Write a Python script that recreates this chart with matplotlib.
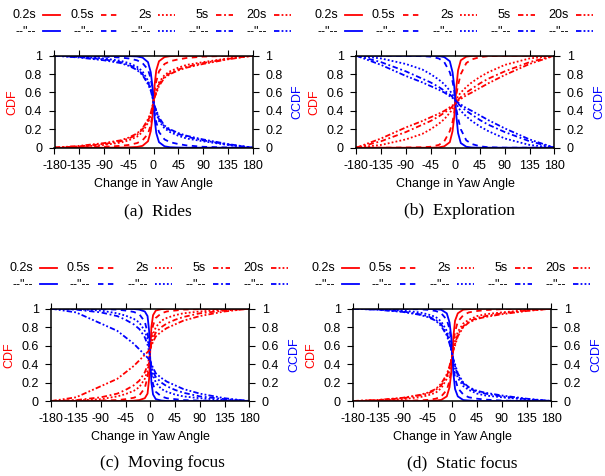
import matplotlib
matplotlib.use("Agg")
import matplotlib.pyplot as plt
import numpy as np

plt.rcParams['font.family'] = ['Liberation Sans', 'DejaVu Sans']
plt.rcParams['axes.unicode_minus'] = False

angles = [-180, -135, -90, -60, -45, -30, -20, -10, -5, -2, 0, 2, 5, 10, 20, 30, 45, 60, 90, 135, 180]
durations = ['0.2s', '0.5s', '2s', '5s', '20s']

# CDF values, one list per duration
rides = [
    [0, 0, 0, 0.002, 0.004, 0.008, 0.02, 0.07, 0.18, 0.33, 0.5, 0.68, 0.84, 0.94, 0.985, 0.995, 0.998, 1, 1, 1, 1],
    [0, 0.003, 0.01, 0.02, 0.03, 0.05, 0.08, 0.15, 0.25, 0.36, 0.5, 0.62, 0.72, 0.83, 0.91, 0.94, 0.96, 0.975, 0.99, 0.998, 1],
    [0, 0.01, 0.03, 0.055, 0.08, 0.12, 0.17, 0.27, 0.35, 0.43, 0.5, 0.56, 0.62, 0.71, 0.79, 0.83, 0.87, 0.9, 0.93, 0.97, 1],
    [0, 0.015, 0.04, 0.07, 0.1, 0.14, 0.2, 0.29, 0.37, 0.44, 0.5, 0.55, 0.6, 0.69, 0.77, 0.81, 0.85, 0.88, 0.92, 0.965, 1],
    [0, 0.02, 0.05, 0.08, 0.11, 0.155, 0.21, 0.31, 0.38, 0.45, 0.5, 0.55, 0.59, 0.67, 0.76, 0.8, 0.84, 0.87, 0.91, 0.96, 1],
]
exploration = [
    [0, 0, 0, 0, 0, 0.003, 0.015, 0.06, 0.18, 0.33, 0.48, 0.66, 0.84, 0.95, 0.99, 0.998, 1, 1, 1, 1, 1],
    [0, 0, 0.002, 0.005, 0.01, 0.03, 0.07, 0.18, 0.28, 0.38, 0.48, 0.58, 0.68, 0.8, 0.92, 0.96, 0.985, 0.995, 1, 1, 1],
    [0, 0.03, 0.09, 0.15, 0.2, 0.26, 0.31, 0.38, 0.42, 0.46, 0.48, 0.52, 0.56, 0.6, 0.66, 0.71, 0.77, 0.82, 0.9, 0.97, 1],
    [0, 0.07, 0.17, 0.25, 0.29, 0.34, 0.38, 0.42, 0.45, 0.47, 0.48, 0.5, 0.52, 0.55, 0.6, 0.64, 0.7, 0.75, 0.83, 0.93, 1],
    [0, 0.1, 0.22, 0.29, 0.33, 0.37, 0.4, 0.44, 0.46, 0.47, 0.48, 0.5, 0.51, 0.53, 0.57, 0.6, 0.65, 0.7, 0.79, 0.91, 1],
]
moving = [
    [0, 0, 0, 0, 0, 0.003, 0.01, 0.03, 0.08, 0.25, 0.56, 0.8, 0.93, 0.98, 0.995, 1, 1, 1, 1, 1, 1],
    [0, 0, 0.005, 0.01, 0.02, 0.035, 0.06, 0.14, 0.26, 0.4, 0.56, 0.7, 0.82, 0.9, 0.95, 0.97, 0.98, 0.99, 0.995, 1, 1],
    [0, 0.005, 0.02, 0.05, 0.075, 0.11, 0.15, 0.24, 0.33, 0.43, 0.56, 0.65, 0.72, 0.8, 0.87, 0.9, 0.93, 0.95, 0.97, 0.99, 1],
    [0, 0.01, 0.04, 0.08, 0.12, 0.17, 0.22, 0.31, 0.39, 0.47, 0.56, 0.62, 0.68, 0.74, 0.8, 0.84, 0.88, 0.91, 0.95, 0.98, 1],
    [0, 0.04, 0.16, 0.24, 0.31, 0.38, 0.44, 0.5, 0.53, 0.55, 0.57, 0.6, 0.64, 0.7, 0.75, 0.79, 0.83, 0.87, 0.92, 0.97, 1],
]
static = [
    [0, 0, 0, 0, 0.002, 0.005, 0.012, 0.05, 0.15, 0.3, 0.5, 0.7, 0.87, 0.95, 0.99, 0.995, 1, 1, 1, 1, 1],
    [0, 0, 0.003, 0.007, 0.012, 0.025, 0.05, 0.12, 0.22, 0.35, 0.5, 0.63, 0.75, 0.86, 0.93, 0.96, 0.975, 0.985, 0.995, 1, 1],
    [0, 0.005, 0.02, 0.04, 0.06, 0.09, 0.14, 0.24, 0.33, 0.42, 0.5, 0.57, 0.65, 0.75, 0.84, 0.88, 0.92, 0.94, 0.96, 0.985, 1],
    [0, 0.01, 0.03, 0.06, 0.08, 0.12, 0.17, 0.27, 0.36, 0.44, 0.5, 0.56, 0.62, 0.72, 0.81, 0.86, 0.9, 0.92, 0.95, 0.98, 1],
    [0, 0.012, 0.035, 0.065, 0.09, 0.13, 0.19, 0.29, 0.38, 0.45, 0.5, 0.55, 0.6, 0.7, 0.8, 0.85, 0.89, 0.91, 0.94, 0.975, 1],
]
captions = ['(a)  Rides', '(b)  Exploration', '(c)  Moving focus', '(d)  Static focus']

styles = ['-', (0, (3, 2.5)), (0, (1, 1.2)), (0, (3, 1.5, 1, 1.5)), (0, (3, 1.2, 1, 1.2, 1, 1.2))]
RED = '#ff0000'
BLUE = '#0000ff'
FS = 9

W, H = 605, 476
fig = plt.figure(figsize=(W / 100, H / 100), dpi=100)

# axes boxes in pixels: left, top, right, bottom
boxes = [(54.5, 55.7, 252.5, 147.7), (356.3, 55.7, 554.3, 147.7),
         (51.3, 308.7, 249.3, 401), (353.3, 308.7, 551.3, 401)]
cap_x = [158, 459, 162, 462]
cap_y = [211, 211, 463, 463]

for k, data in enumerate([rides, exploration, moving, static]):
    l, t, r, b = boxes[k]
    ax = fig.add_axes([l / W, 1 - b / H, (r - l) / W, (b - t) / H])
    aw, ah = r - l, b - t
    for i, cdf in enumerate(data):
        cdf = np.array(cdf)
        ax.plot(angles, cdf, color=RED, ls=styles[i], lw=1.3)
        ax.plot(angles, 1 - cdf, color=BLUE, ls=styles[i], lw=1.3)
    ax.set_xlim(-180, 180)
    ax.set_ylim(0, 1)
    ax.set_xticks(np.arange(-180, 181, 45))
    ax.set_yticks(np.arange(0, 1.01, 0.2))
    ax.set_yticklabels(['0', '0.2', '0.4', '0.6', '0.8', '1'])
    ax.tick_params(direction='out', length=4, width=0.8, pad=5, labelsize=FS,
                   top=True, right=True, labelright=True)
    for s in ax.spines.values():
        s.set_linewidth(1.1)
    ax.set_xlabel('Change in Yaw Angle', fontsize=FS, labelpad=4)
    ax.text(-42 / aw, 0.5, 'CDF', color=RED, rotation=90, fontsize=FS,
            ha='center', va='center', transform=ax.transAxes)
    ax.text(1 + 45 / aw, 0.5, 'CCDF', color=BLUE, rotation=90, fontsize=FS,
            ha='center', va='center', transform=ax.transAxes)

    # gnuplot style key above the panel
    for i, lab in enumerate(durations):
        tx = -18.5 + 57.7 * i
        for row, (txt, col) in enumerate([(lab, RED), ('--"--', BLUE)]):
            ty = 1 + (40.7 - 16 * row) / ah
            ax.text(tx / aw, ty, txt, fontsize=FS, ha='right', va='center',
                    transform=ax.transAxes)
            ax.plot([(tx + 7) / aw, (tx + 24) / aw], [ty, ty], color=col,
                    ls=styles[i], lw=1.3, transform=ax.transAxes, clip_on=False)

    fig.text(cap_x[k] / W, 1 - cap_y[k] / H, captions[k], fontsize=12.5,
             family=['Liberation Serif', 'DejaVu Serif'], ha='center', va='center')

fig.savefig('out.png', dpi=100)
